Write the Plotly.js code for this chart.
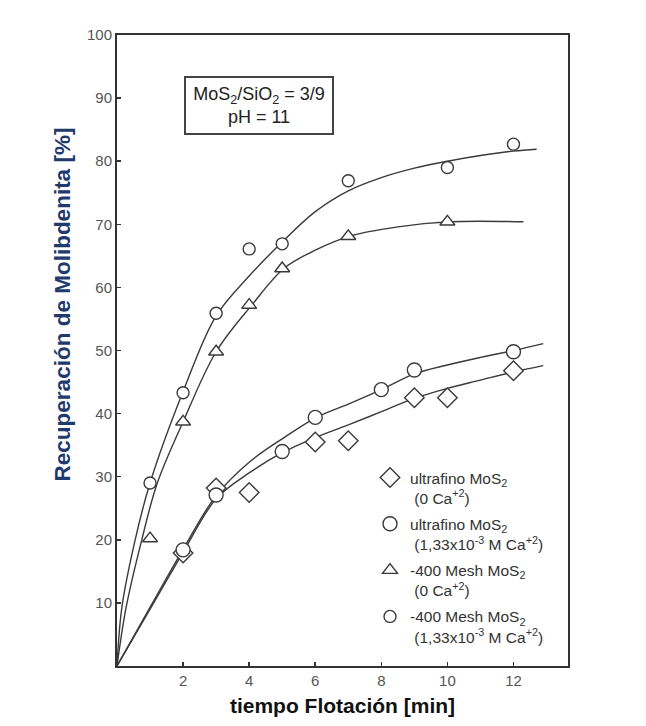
<!DOCTYPE html>
<html>
<head>
<meta charset="utf-8">
<script src="https://cdn.plot.ly/plotly-3.0.1.min.js"></script>
<style>html,body{margin:0;padding:0;background:#fff;}#chart{width:646px;height:726px;}</style>
</head>
<body>
<div id="chart"></div>
<script>
// ---- data ----
const seriesNames = [
  'ultrafino MoS<sub>2</sub><br> (0 Ca<sup>+2</sup>)',
  'ultrafino MoS<sub>2</sub><br> (1,33x10<sup>-3</sup> M Ca<sup>+2</sup>)',
  '-400 Mesh MoS<sub>2</sub><br> (0 Ca<sup>+2</sup>)',
  '-400 Mesh MoS<sub>2</sub><br> (1,33x10<sup>-3</sup> M Ca<sup>+2</sup>)'
];
// measured points
const ufNoCaTime = [2, 3, 4, 6, 7, 9, 10, 12];
const ufNoCaRec  = [17.9, 28.2, 27.5, 35.5, 35.7, 42.5, 42.5, 46.8];
const ufCaTime   = [2, 3, 5, 6, 8, 9, 12];
const ufCaRec    = [18.4, 27.1, 34.0, 39.4, 43.8, 46.9, 49.8];
const meshNoCaTime = [1, 2, 3, 4, 5, 7, 10];
const meshNoCaRec  = [20.2, 38.7, 49.8, 57.2, 63.0, 68.1, 70.4];
const meshCaTime   = [1, 2, 3, 4, 5, 7, 10, 12];
const meshCaRec    = [29.0, 43.3, 55.9, 66.1, 66.9, 76.9, 79.0, 82.7];
// fitted curves
const curveMeshCaX   = [0, 0.15, 0.55, 1, 2, 3, 4, 5, 6, 7, 8, 9, 10, 11, 12, 12.7];
const curveMeshCaY   = [0, 9.4, 20, 29, 43.5, 55.5, 61.8, 67.2, 72, 75.3, 77.4, 78.9, 80, 80.9, 81.6, 81.9];
const curveMeshNoCaX = [0, 0.28, 0.75, 1.22, 2.0, 3.0, 4.08, 5.05, 6.0, 7.1, 8.5, 10.05, 12.3];
const curveMeshNoCaY = [0, 9.4, 20, 29, 38.7, 49.8, 57.2, 63, 65.9, 68.2, 69.6, 70.4, 70.4];
const curveUfCaX     = [0, 1, 2, 3, 4, 5, 6, 7, 8, 9, 10, 11, 12, 12.9];
const curveUfCaY     = [0, 9.3, 18.5, 27, 32.3, 36, 39.3, 41.5, 43.8, 46.3, 47.7, 48.9, 50, 51.1];
const curveUfNoCaX   = [0, 1, 2, 3, 4, 5, 6, 7, 8, 9, 10, 11, 12, 12.9];
const curveUfNoCaY   = [0, 9, 18, 26.5, 30.6, 33.8, 36.2, 38.2, 40.3, 42.4, 44, 45.3, 46.6, 47.6];
// axis ticks
const xTicks = [2, 4, 6, 8, 10, 12];
const yTicks = [10, 20, 30, 40, 50, 60, 70, 80, 90, 100];

const FONT = 'Liberation Sans, Arial, sans-serif';
const lineCol = '#3a3a3a';
function curve(x, y) {
  return {x: x, y: y, mode: 'lines', type: 'scatter', showlegend: false, hoverinfo: 'skip',
          line: {color: lineCol, width: 1.4, shape: 'spline', smoothing: 1}};
}
function pts(x, y, name, symbol, size, grp) {
  return {x: x, y: y, mode: 'markers', type: 'scatter', name: name, legendgroup: grp,
          marker: {symbol: symbol, size: size, color: '#ffffff', line: {color: lineCol, width: 1.4}}};
}
const data = [
  curve(curveMeshCaX, curveMeshCaY),
  curve(curveMeshNoCaX, curveMeshNoCaY),
  curve(curveUfCaX, curveUfCaY),
  curve(curveUfNoCaX, curveUfNoCaY),
  pts(ufNoCaTime, ufNoCaRec, seriesNames[0], 'diamond', 15, 'a'),
  pts(ufCaTime, ufCaRec, seriesNames[1], 'circle', 14, 'b'),
  pts(meshNoCaTime, meshNoCaRec, seriesNames[2], 'triangle-up', 13, 'c'),
  pts(meshCaTime, meshCaRec, seriesNames[3], 'circle', 12, 'd')
];

const axisCommon = {
  showgrid: false, zeroline: false, showline: true, mirror: true,
  linecolor: '#333', linewidth: 2, ticks: 'inside', ticklen: 4, tickwidth: 1.5, tickcolor: '#333',
  tickfont: {family: FONT, size: 15, color: '#555'}
};

const layout = {
  width: 646, height: 726,
  margin: {l: 117, r: 78, t: 35, b: 60},
  paper_bgcolor: '#fff', plot_bgcolor: '#fff',
  font: {family: FONT},
  xaxis: Object.assign({}, axisCommon, {
    range: [0, 13.65], tickvals: xTicks, ticktext: xTicks.map(String),
    title: {text: 'tiempo Flotación [min]', standoff: 10,
            font: {family: FONT, size: 21, color: '#111', weight: 'bold'}}
  }),
  yaxis: Object.assign({}, axisCommon, {
    range: [0, 100], tickvals: yTicks, ticktext: yTicks.map(String)
  }),
  showlegend: true,
  legend: {
    x: 0.561, y: 0.325, xanchor: 'left', yanchor: 'top',
    bgcolor: 'rgba(0,0,0,0)', borderwidth: 0, valign: 'top', tracegroupgap: 3,
    font: {family: FONT, size: 15.5, color: '#333'}
  },
  annotations: [
    {xref: 'paper', yref: 'paper', x: -0.122, y: 0.573, xanchor: 'center', yanchor: 'middle',
     textangle: -90, showarrow: false,
     text: '<b>Recuperación de Molibdenita [%]</b>',
     font: {family: FONT, size: 22.5, color: '#1f3a6b'}},
    {xref: 'paper', yref: 'paper', x: 0.315, y: 0.888, xanchor: 'center', yanchor: 'middle',
     showarrow: false,
     text: 'MoS<sub>2</sub>/SiO<sub>2</sub> = 3/9<br>pH = 11',
     width: 144, height: 53, bordercolor: '#444', borderwidth: 2, borderpad: 1, bgcolor: '#fff',
     font: {family: FONT, size: 18, color: '#222'}}
  ]
};

Plotly.newPlot('chart', data, layout, {displayModeBar: false, staticPlot: true});
</script>
</body>
</html>
